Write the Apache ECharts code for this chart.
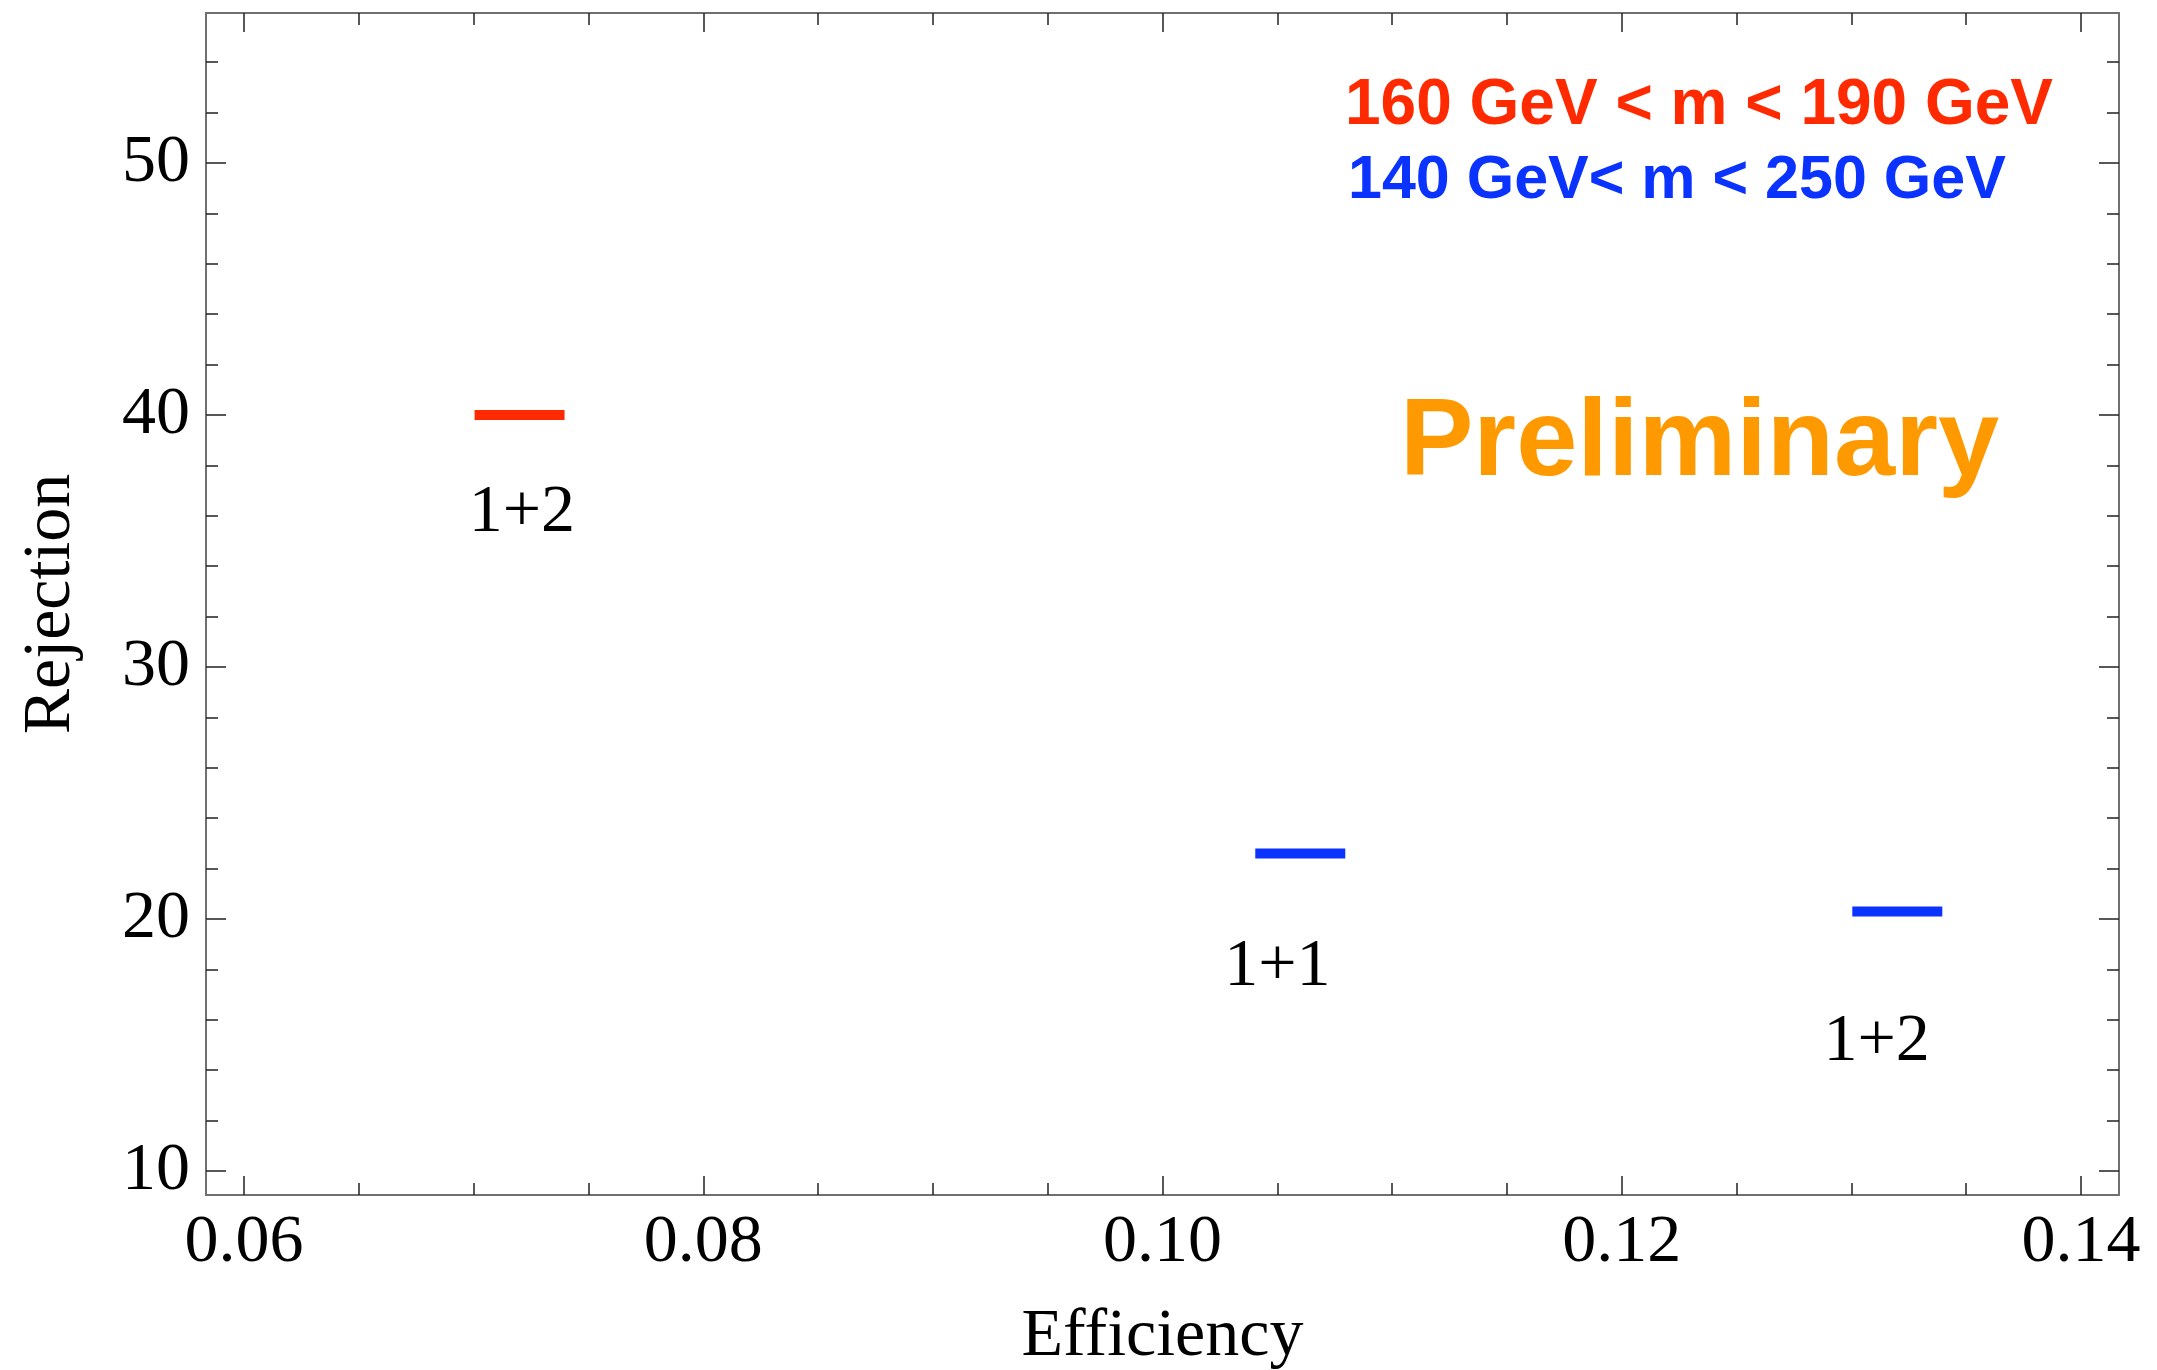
<!DOCTYPE html>
<html>
<head>
<meta charset="UTF-8">
<script src="https://cdn.jsdelivr.net/npm/echarts@6/dist/echarts.min.js"></script>
<style>
  html, body { margin: 0; padding: 0; background: #fff; }
  #main { width: 2157px; height: 1370px; }
</style>
</head>
<body>
<div id="main"></div>
<script type="text/javascript">
// data
var redEff = [0.0720];
var redRej = [40.0];
var blueEff = [0.1060, 0.1320];
var blueRej = [22.6, 20.3];
var cutNames = ['1+2', '1+1', '1+2'];
var cutEff = [0.0721, 0.1050, 0.1311];
var cutRej = [36.1, 18.1, 15.1];
var windowNames = ['160 GeV < m < 190 GeV', '140 GeV< m < 250 GeV'];
var stampText = 'Preliminary';

// axes
var xMin = 0.058345, xMax = 0.141655;
var yMin = 9.048, yMax = 55.95;
var xMajor = [0.06, 0.08, 0.10, 0.12, 0.14];
var xMinor = [0.065, 0.07, 0.075, 0.085, 0.09, 0.095, 0.105, 0.11, 0.115, 0.125, 0.13, 0.135];
var yMajor = [10, 20, 30, 40, 50];
var yMinor = [12, 14, 16, 18, 22, 24, 26, 28, 32, 34, 36, 38, 42, 44, 46, 48, 52, 54];

var serif = "'Liberation Serif', 'Times New Roman', serif";
var sans = "'Liberation Sans', Arial, sans-serif";
var RED = '#ff2a00', BLUE = '#0a33ff', ORANGE = '#ff9900';
var frameColor = '#707070', tickColor = '#222';

function zip(a, b) {
	var out = [];
	for(var i = 0; i < a.length; i++) out.push([a[i], b[i]]);
	return out;
}

// one axis of the frame: either with labels+major ticks, or only ticks
function xAx(pos, ticks, len, withLine, withLabel) {
	return {
		type: 'value', position: pos, min: xMin, max: xMax,
		splitLine: { show: false },
		axisLine: { show: withLine, lineStyle: { color: frameColor, width: 2 } },
		axisTick: { show: true, inside: true, length: len, customValues: ticks,
			lineStyle: { color: tickColor, width: 1.5 } },
		axisLabel: { show: withLabel, customValues: ticks, margin: 14,
			fontFamily: serif, fontSize: 68, color: '#000',
			formatter: function(v) { return v.toFixed(2); } }
	};
}
function yAx(pos, ticks, len, withLine, withLabel) {
	return {
		type: 'value', position: pos, min: yMin, max: yMax,
		splitLine: { show: false },
		axisLine: { show: withLine, lineStyle: { color: frameColor, width: 2 } },
		axisTick: { show: true, inside: true, length: len, customValues: ticks,
			lineStyle: { color: tickColor, width: 1.5 } },
		axisLabel: { show: withLabel, customValues: ticks, margin: 16,
			fontFamily: serif, fontSize: 68, color: '#000' }
	};
}

var xAxes = [
	xAx('bottom', xMajor, 19, true, true),
	xAx('bottom', xMinor, 12, false, false),
	xAx('top', xMajor, 19, true, false),
	xAx('top', xMinor, 12, false, false)
];
xAxes[0].name = 'Efficiency';
xAxes[0].nameLocation = 'middle';
xAxes[0].nameGap = 108;
xAxes[0].nameTextStyle = { fontFamily: serif, fontSize: 68, color: '#000' };

var yAxes = [
	yAx('left', yMajor, 20, true, true),
	yAx('left', yMinor, 12, false, false),
	yAx('right', yMajor, 20, true, false),
	yAx('right', yMinor, 12, false, false)
];
yAxes[0].name = 'Rejection';
yAxes[0].nameLocation = 'middle';
yAxes[0].nameGap = 121;
yAxes[0].nameTextStyle = { fontFamily: serif, fontSize: 68, color: '#000' };

var cutData = [];
for(var i = 0; i < cutNames.length; i++) {
	cutData.push({ name: cutNames[i], value: [cutEff[i], cutRej[i]] });
}

var chart = echarts.init(document.getElementById('main'));
chart.setOption({
	animation: false,
	backgroundColor: '#fff',
	grid: { left: 206, right: 38, top: 13, bottom: 175, containLabel: false, outerBoundsMode: 'none' },
	xAxis: xAxes,
	yAxis: yAxes,
	series: [{
		name: windowNames[0], type: 'scatter', symbol: 'rect', symbolSize: [90, 10],
		itemStyle: { color: RED, opacity: 1 }, data: zip(redEff, redRej)
	}, {
		name: windowNames[1], type: 'scatter', symbol: 'rect', symbolSize: [90, 10],
		itemStyle: { color: BLUE, opacity: 1 }, data: zip(blueEff, blueRej)
	}, {
		name: 'cuts', type: 'scatter', symbolSize: 0, silent: true,
		itemStyle: { opacity: 1 },
		label: { show: true, position: 'inside', formatter: '{b}',
			fontFamily: serif, fontSize: 68, color: '#000', opacity: 1 },
		data: cutData
	}],
	graphic: [{
		type: 'text', left: 1345, top: 74,
		style: { text: windowNames[0], font: 'bold 64px ' + sans, fill: RED }
	}, {
		type: 'text', left: 1348, top: 151,
		style: { text: windowNames[1], font: 'bold 61px ' + sans, fill: BLUE }
	}, {
		type: 'text', left: 1400, top: 390,
		style: { text: stampText, font: 'bold 110px ' + sans, fill: ORANGE }
	}]
});
</script>
</body>
</html>
